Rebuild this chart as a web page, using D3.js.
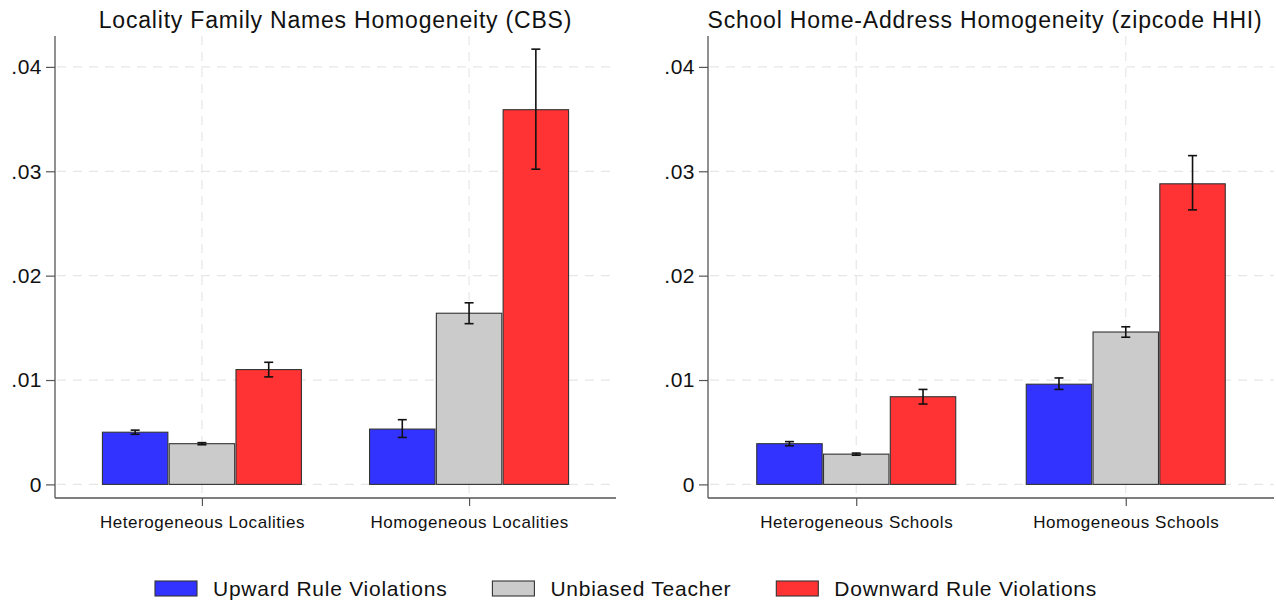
<!DOCTYPE html>
<html>
<head>
<meta charset="utf-8">
<script src="https://cdn.jsdelivr.net/npm/d3@7"></script>
<style>
  body { margin: 0; background: #fff; }
  svg { display: block; font-family: "Liberation Sans", Arial, sans-serif; }
</style>
</head>
<body>
<svg id="chart" width="1276" height="604"></svg>
<script>
var series = ["Upward Rule Violations", "Unbiased Teacher", "Downward Rule Violations"];
var colors = ["#3333ff", "#cbcbcb", "#ff3333"];

var titles = [
  "Locality Family Names Homogeneity (CBS)",
  "School Home-Address Homogeneity (zipcode HHI)"
];

var categoriesLeft = ["Heterogeneous Localities", "Homogeneous Localities"];
var categoriesRight = ["Heterogeneous Schools", "Homogeneous Schools"];

// means per category, order = series
var meansLeft = [[0.0050, 0.0039, 0.0110], [0.0053, 0.0164, 0.0359]];
var lowLeft = [[0.0048, 0.0038, 0.0103], [0.0045, 0.0154, 0.0302]];
var highLeft = [[0.0052, 0.0040, 0.0117], [0.0062, 0.0174, 0.0417]];

var meansRight = [[0.0039, 0.0029, 0.0084], [0.0096, 0.0146, 0.0288]];
var lowRight = [[0.0037, 0.0028, 0.0077], [0.0091, 0.0141, 0.0263]];
var highRight = [[0.0041, 0.0030, 0.0091], [0.0102, 0.0151, 0.0315]];

var yTicks = [0, 0.01, 0.02, 0.03, 0.04];

var svg = d3.select("#chart");
svg.append("rect").attr("width", 1276).attr("height", 604).attr("fill", "#fff");

var yTop = 36, yAxisBottom = 498;
var y = d3.scaleLinear().domain([0, 0.04]).range([484.4, 66.9]);

function fmt(d) {
  return d === 0 ? "0" : d3.format(".2f")(d).replace(/^0/, "");
}

function panel(left, right, titleX, title, cats, means, lows, highs) {
  var g = svg.append("g");

  var x = d3.scalePoint().domain(cats).range([left, right]).padding(0.55);
  var inner = d3.scaleBand().domain(series).range([-99.5, 99.5]).paddingInner(0.02);

  // grid
  g.selectAll(".hgrid")
    .data(yTicks)
    .enter()
    .append("line")
    .attr("x1", left + 2)
    .attr("x2", right)
    .attr("y1", function (d) { return y(d); })
    .attr("y2", function (d) { return y(d); })
    .attr("stroke", "#e6e6e6")
    .attr("stroke-width", 1.2)
    .attr("stroke-dasharray", "9,7");

  g.selectAll(".vgrid")
    .data(cats)
    .enter()
    .append("line")
    .attr("x1", function (d) { return x(d); })
    .attr("x2", function (d) { return x(d); })
    .attr("y1", yTop)
    .attr("y2", yAxisBottom)
    .attr("stroke", "#e6e6e6")
    .attr("stroke-width", 1.2)
    .attr("stroke-dasharray", "9,7");

  // bars
  var rows = [];
  cats.forEach(function (c, i) {
    series.forEach(function (s, j) {
      rows.push({ cat: c, s: s, j: j, v: means[i][j], lo: lows[i][j], hi: highs[i][j] });
    });
  });

  g.selectAll(".bar")
    .data(rows)
    .enter()
    .append("rect")
    .attr("x", function (d) { return x(d.cat) + inner(d.s); })
    .attr("width", inner.bandwidth())
    .attr("y", function (d) { return y(d.v); })
    .attr("height", function (d) { return y(0) - y(d.v); })
    .attr("fill", function (d) { return colors[d.j]; })
    .attr("stroke", "#333")
    .attr("stroke-width", 1.1);

  // error bars
  var eb = g.selectAll(".err").data(rows).enter().append("g");
  function cx(d) { return x(d.cat) + inner(d.s) + inner.bandwidth() / 2; }
  eb.append("line")
    .attr("x1", cx).attr("x2", cx)
    .attr("y1", function (d) { return y(d.lo); })
    .attr("y2", function (d) { return y(d.hi); })
    .attr("stroke", "#111").attr("stroke-width", 1.6);
  ["lo", "hi"].forEach(function (k) {
    eb.append("line")
      .attr("x1", function (d) { return cx(d) - 4.5; })
      .attr("x2", function (d) { return cx(d) + 4.5; })
      .attr("y1", function (d) { return y(d[k]); })
      .attr("y2", function (d) { return y(d[k]); })
      .attr("stroke", "#111").attr("stroke-width", 1.6);
  });

  // y axis
  var ya = g.append("g")
    .attr("transform", "translate(" + left + ",0)")
    .call(d3.axisLeft(y).tickValues(yTicks).tickFormat(fmt).tickSize(9).tickPadding(4));
  ya.select(".domain").remove();
  ya.selectAll("line").attr("stroke", "#555").attr("stroke-width", 1.2);
  ya.selectAll("text")
    .attr("font-size", 21)
    .attr("letter-spacing", "0.5px")
    .attr("fill", "#111")
    .attr("font-family", null);
  g.append("line")
    .attr("x1", left).attr("x2", left)
    .attr("y1", yTop).attr("y2", yAxisBottom)
    .attr("stroke", "#555").attr("stroke-width", 1.3);

  // x axis
  var xa = g.append("g")
    .attr("transform", "translate(0," + yAxisBottom + ")")
    .call(d3.axisBottom(x).tickSize(8).tickPadding(10));
  xa.select(".domain").remove();
  xa.selectAll("line").attr("stroke", "#555").attr("stroke-width", 1.2);
  xa.selectAll("text")
    .attr("font-size", 17)
    .attr("letter-spacing", "0.55px")
    .attr("fill", "#111")
    .attr("font-family", null);
  g.append("line")
    .attr("x1", left).attr("x2", right)
    .attr("y1", yAxisBottom).attr("y2", yAxisBottom)
    .attr("stroke", "#555").attr("stroke-width", 1.3);

  // title
  g.append("text")
    .attr("x", titleX)
    .attr("y", 28)
    .attr("text-anchor", "middle")
    .attr("font-size", 23)
    .attr("letter-spacing", "0.8px")
    .attr("fill", "#111")
    .text(title);
}

panel(55, 616, 335.5, titles[0], categoriesLeft, meansLeft, lowLeft, highLeft);
panel(708, 1274, 985, titles[1], categoriesRight, meansRight, lowRight, highRight);

// legend
var lg = svg.append("g");
var lx = 155;
series.forEach(function (s, i) {
  lg.append("rect")
    .attr("x", lx).attr("y", 581)
    .attr("width", 42).attr("height", 15)
    .attr("fill", colors[i])
    .attr("stroke", "#333").attr("stroke-width", 1.1);
  var t = lg.append("text")
    .attr("x", lx + 58).attr("y", 596)
    .attr("font-size", 21)
    .attr("letter-spacing", "0.75px")
    .attr("fill", "#111")
    .text(s);
  lx += 58 + t.node().getComputedTextLength() + 45;
});
</script>
</body>
</html>
